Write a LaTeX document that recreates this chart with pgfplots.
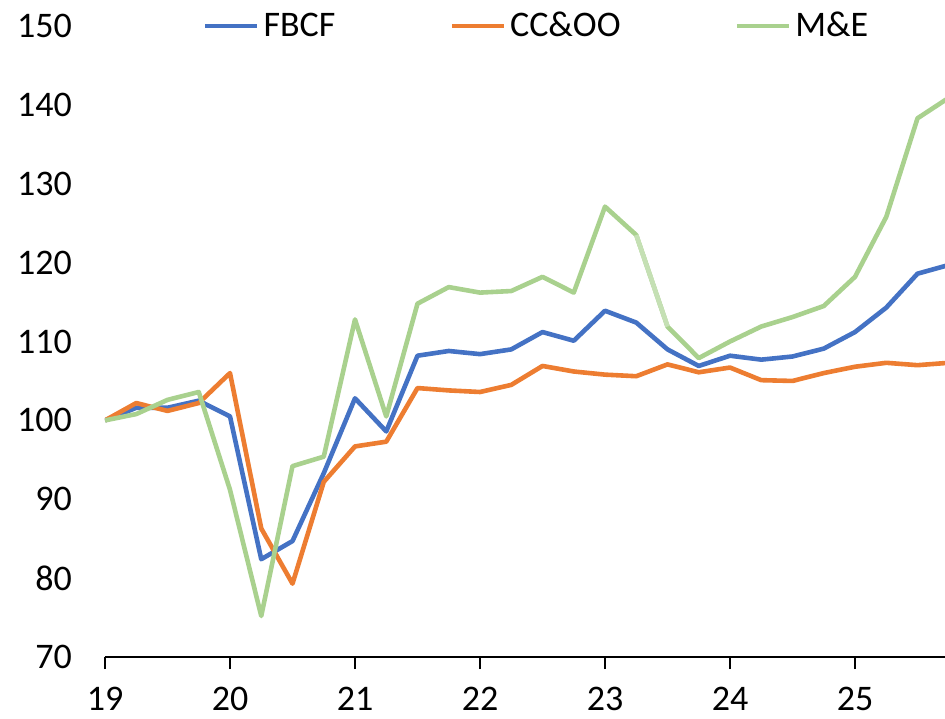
\documentclass[border=0pt]{standalone}
\usepackage{pgfplots}
\pgfplotsset{compat=1.18}
\usepackage{fontspec}
\setmainfont{Carlito}
\definecolor{cblue}{HTML}{4472C4}
\definecolor{corange}{HTML}{ED7D31}
\definecolor{cgreen}{HTML}{A9D18E}
\definecolor{cgreenl}{HTML}{C5E0B4}
\begin{document}
\begin{tikzpicture}
\begin{axis}[
  at={(0,0)}, anchor=south west,
  scale only axis, width=420pt, height=315.5pt,
  xmin=19, xmax=25.72, ymin=70, ymax=150,
  axis x line=bottom, axis y line=left,
  y axis line style={draw=none},
  x axis line style={line width=1pt, -},
  xtick={19,20,21,22,23,24,25},
  xticklabels={19,20,21,22,23,24,25},
  ytick={70,80,...,150},
  tick align=outside,
  major tick length=6pt,
  xtick style={line width=1pt, black},
  ytick style={draw=none},
  tick label style={font=\fontsize{18}{22}\selectfont, /pgf/number format/assume math mode=true},
  xticklabel style={yshift=-5.5pt},
  yticklabel style={xshift=-7pt},
  legend style={at={(0.515,1)}, anchor=center, draw=none, fill=none,
    legend columns=3, font=\fontsize{18}{22}\selectfont,
    nodes={inner xsep=2pt, inner ysep=1pt},
    /tikz/every even column/.append style={column sep=55pt}},
  legend image code/.code={\draw[#1] (0pt,0pt) -- (26pt,0pt);},
  every axis plot/.append style={line width=2.3pt, line join=round},
]
\addplot[color=cblue] coordinates {
(19.00,100.0) (19.25,101.6) (19.50,101.6) (19.75,102.5)
(20.00,100.5) (20.25,82.4) (20.50,84.7) (20.75,93.3)
(21.00,102.8) (21.25,98.6) (21.50,108.2) (21.75,108.8)
(22.00,108.4) (22.25,109.0) (22.50,111.2) (22.75,110.1)
(23.00,113.9) (23.25,112.4) (23.50,109.0) (23.75,106.9)
(24.00,108.2) (24.25,107.7) (24.50,108.1) (24.75,109.1)
(25.00,111.2) (25.25,114.3) (25.50,118.6) (25.75,119.7)
};
\addlegendentry{FBCF}
\addplot[color=corange] coordinates {
(19.00,100.0) (19.25,102.2) (19.50,101.2) (19.75,102.2)
(20.00,106.0) (20.25,86.3) (20.50,79.3) (20.75,92.2)
(21.00,96.7) (21.25,97.3) (21.50,104.1) (21.75,103.8)
(22.00,103.6) (22.25,104.5) (22.50,106.9) (22.75,106.2)
(23.00,105.8) (23.25,105.6) (23.50,107.1) (23.75,106.1)
(24.00,106.7) (24.25,105.1) (24.50,105.0) (24.75,106.0)
(25.00,106.8) (25.25,107.3) (25.50,107.0) (25.75,107.3)
};
\addlegendentry{CC\&OO}
\addplot[color=cgreen] coordinates {
(19.00,100.0) (19.25,100.8) (19.50,102.6) (19.75,103.6)
(20.00,91.2) (20.25,75.2) (20.50,94.2) (20.75,95.4)
(21.00,112.8) (21.25,100.5) (21.50,114.8) (21.75,116.9)
(22.00,116.2) (22.25,116.4) (22.50,118.2) (22.75,116.2)
(23.00,127.1) (23.25,123.5) (23.50,111.9) (23.75,107.9)
(24.00,110.0) (24.25,111.9) (24.50,113.1) (24.75,114.5)
(25.00,118.2) (25.25,125.8) (25.50,138.3) (25.75,140.9)
};
\addlegendentry{M\&E}
\addplot[color=cgreenl, forget plot] coordinates {(23.25,123.5) (23.50,111.9)};
\end{axis}
\pgfresetboundingbox
\path (-52.5pt,-30.5pt) rectangle (420pt,328.5pt);
\end{tikzpicture}
\end{document}
